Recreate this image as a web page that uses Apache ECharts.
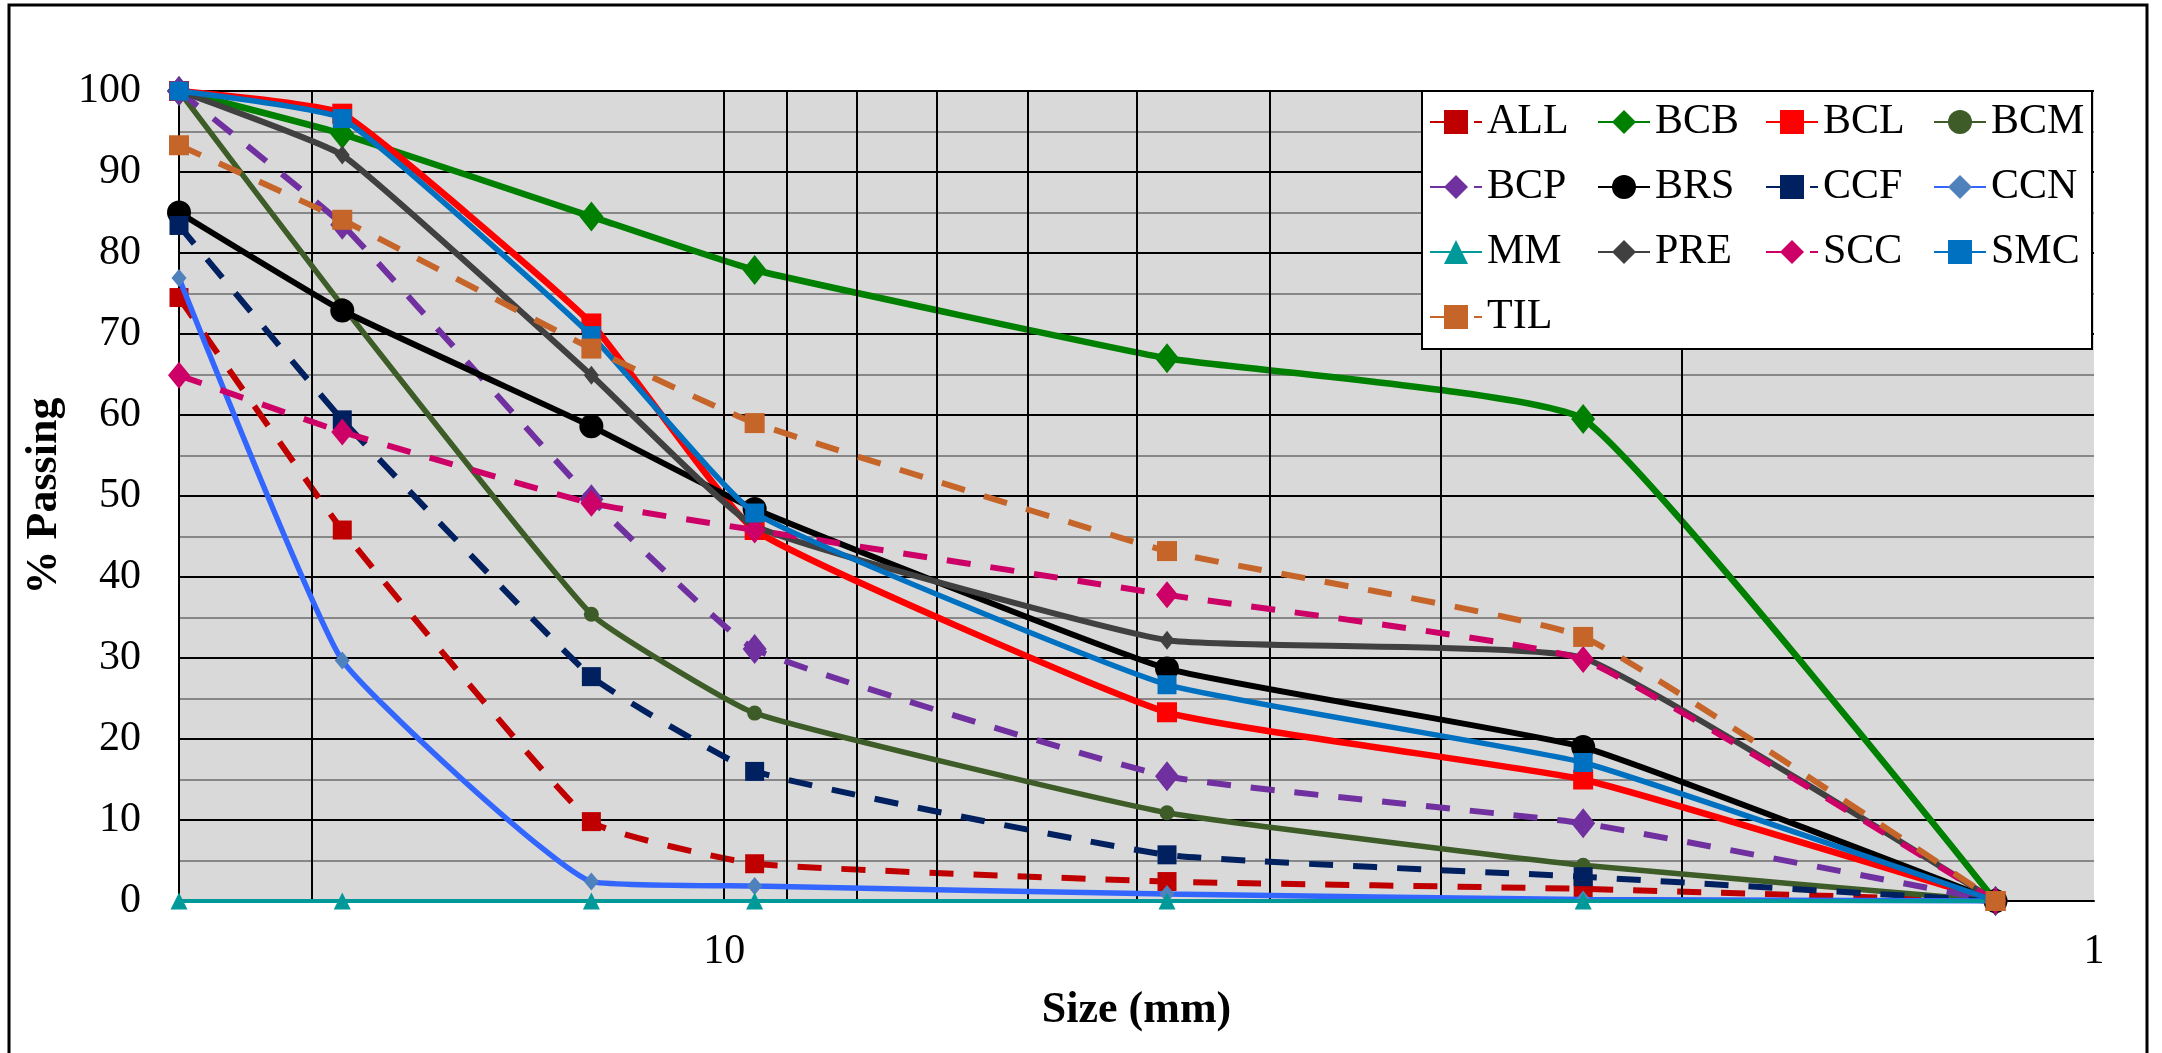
<!DOCTYPE html>
<html><head><meta charset="utf-8">
<script src="https://cdn.jsdelivr.net/npm/echarts@6/dist/echarts.min.js"></script>
<style>html,body{margin:0;padding:0;background:#fff}#c{width:2162px;height:1053px}</style>
</head><body><div id="c"></div>
<script>
// Sieve sizes (mm)
const SIZES = [25, 19, 12.5, 9.5, 4.75, 2.36, 1.18];
// % passing per sample
const ALL = [74.5, 45.8, 9.8, 4.6, 2.4, 1.5, 0];
const BCB = [100, 94.7, 84.5, 77.9, 67.0, 59.5, 0];
const BCL = [100, 97.2, 71.3, 45.8, 23.3, 15.0, 0];
const BCM = [100, 73.5, 35.4, 23.2, 10.9, 4.4, 0];
const BCP = [100, 83.5, 49.6, 31.1, 15.4, 9.6, 0];
const BRS = [85.0, 72.9, 58.6, 48.4, 28.7, 19.0, 0];
const CCF = [83.4, 59.4, 27.7, 16.0, 5.7, 3.0, 0];
const CCN = [76.9, 29.7, 2.4, 1.85, 0.85, 0.2, 0];
const MM  = [0, 0, 0, 0, 0, 0, 0];
const PRE = [100, 92.1, 64.9, 46.3, 32.2, 30.0, 0];
const SCC = [64.9, 57.9, 49.1, 45.8, 37.8, 29.8, 0];
const SMC = [100, 96.6, 69.8, 47.9, 26.7, 17.1, 0];
const TIL = [93.3, 84.1, 68.2, 59.0, 43.2, 32.6, 0];
const SERIES_NAMES = ['ALL','BCB','BCL','BCM','BCP','BRS','CCF','CCN','MM','PRE','SCC','SMC','TIL'];
const SERIES_VALUES = {ALL, BCB, BCL, BCM, BCP, BRS, CCF, CCN, MM, PRE, SCC, SMC, TIL};
// Axis tick labels and log gridline sizes
const X_LABELS = [1, 10];
const GRID_SIZES = [20, 10, 9, 8, 7, 6, 5, 4, 3, 2];
const LEGEND_COLS = [['ALL','BCP','MM','TIL'],['BCB','BRS','PRE'],['BCL','CCF','SCC'],['BCM','CCN','SMC']];

const DASH = [24, 20];
const STYLE = {
  ALL: {line:'#C00000', mark:'#C00000', dash:true,  symbol:'rect',     size:19,      width:6},
  BCB: {line:'#008000', mark:'#008000', dash:false, symbol:'diamond',  size:[24,30], width:6.5},
  BCL: {line:'#FF0000', mark:'#FF0000', dash:false, symbol:'rect',     size:20,      width:6.5},
  BCM: {line:'#3D5C28', mark:'#3D5C28', dash:false, symbol:'circle',   size:15,      width:5.5},
  BCP: {line:'#7030A0', mark:'#7030A0', dash:true,  symbol:'diamond',  size:[24,30], width:6},
  BRS: {line:'#000000', mark:'#000000', dash:false, symbol:'circle',   size:24,      width:6},
  CCF: {line:'#002060', mark:'#002060', dash:true,  symbol:'rect',     size:19,      width:6},
  CCN: {line:'#3366FF', mark:'#4F81BD', dash:false, symbol:'diamond',  size:[15,18], width:5.5},
  MM:  {line:'#00999A', mark:'#00999A', dash:false, symbol:'triangle', size:17,      width:4},
  PRE: {line:'#404040', mark:'#404040', dash:false, symbol:'diamond',  size:[15,19], width:6},
  SCC: {line:'#CC0066', mark:'#CC0066', dash:true,  symbol:'diamond',  size:[22,27], width:6},
  SMC: {line:'#0070C0', mark:'#0070C0', dash:false, symbol:'rect',     size:19,      width:5.5},
  TIL: {line:'#C6652A', mark:'#C6652A', dash:true,  symbol:'rect',     size:20,      width:6}
};
const FONT = 'Liberation Serif';

const series = [{
  type:'line', name:'_grid', data:[[1,0],[25,0]], symbol:'none', silent:true, z:1,
  lineStyle:{width:0, opacity:0},
  markLine:{silent:true, symbol:'none', label:{show:false}, animation:false,
    lineStyle:{color:'#000', width:2, type:'solid'},
    emphasis:{disabled:true},
    data: GRID_SIZES.map(v => ({xAxis: v}))}
}];
SERIES_NAMES.forEach((n, idx) => {
  const s = STYLE[n];
  const ls = {color:s.line, width:s.width, type: s.dash ? DASH : 'solid', cap:'butt'};
  series.push({
    type:'line', name:n, smooth:0.12, z: 3 + idx,
    data: SIZES.map((x,i) => [x, SERIES_VALUES[n][i]]),
    symbol:s.symbol, symbolSize:s.size, showAllSymbol:true,
    itemStyle:{color:s.mark, opacity:1},
    lineStyle: ls,
    emphasis:{disabled:true, lineStyle: ls},
    blur:{lineStyle: ls}
  });
});

const legends = LEGEND_COLS.map((d,i) => ({
  data:d, orient:'vertical', left: 1429 + i*168, top: 101,
  itemWidth:52, itemHeight:30, itemGap:23, padding:0, z:41, selectedMode:false,
  textStyle:{fontFamily:FONT, fontSize:42, color:'#000', lineHeight:42}
}));

const chart = echarts.init(document.getElementById('c'));
chart.setOption({
  animation:false,
  backgroundColor:'#fff',
  grid:{left:179, right:68, top:91, bottom:152, show:true, backgroundColor:'#D9D9D9', borderWidth:0},
  graphic:[
    {type:'rect', z:0, shape:{x:9, y:5, width:2138, height:1100}, style:{fill:'none', stroke:'#000', lineWidth:3}},
    {type:'rect', z:40, shape:{x:1422, y:91, width:670, height:258}, style:{fill:'#fff', stroke:'#000', lineWidth:2}}
  ],
  legend: legends,
  xAxis:{type:'log', logBase:10, min:1, max:25, inverse:true,
    axisLine:{show:true, onZero:false, lineStyle:{color:'#000', width:2}},
    axisTick:{show:false}, splitLine:{show:false},
    axisLabel:{fontFamily:FONT, fontSize:42, color:'#000', margin:30,
      formatter: v => { const m = X_LABELS.find(t => Math.abs(t - v) < 1e-6); return m === undefined ? '' : String(m); }},
    name:'Size (mm)', nameLocation:'middle', nameGap:88,
    nameTextStyle:{fontFamily:FONT, fontWeight:'bold', fontSize:44, color:'#000'}},
  yAxis:{type:'value', min:0, max:100, interval:10,
    axisLine:{show:true, lineStyle:{color:'#000', width:2}},
    axisTick:{show:false},
    axisLabel:{fontFamily:FONT, fontSize:42, color:'#000', margin:38},
    splitLine:{show:true, lineStyle:{color:'#000', width:2}},
    minorTick:{show:false, splitNumber:2},
    minorSplitLine:{show:true, lineStyle:{color:'#878787', width:2}},
    name:'% Passing', nameLocation:'middle', nameRotate:90, nameGap:102,
    nameTextStyle:{fontFamily:FONT, fontWeight:'bold', fontSize:44, color:'#000'}},
  series: series
});
</script></body></html>
